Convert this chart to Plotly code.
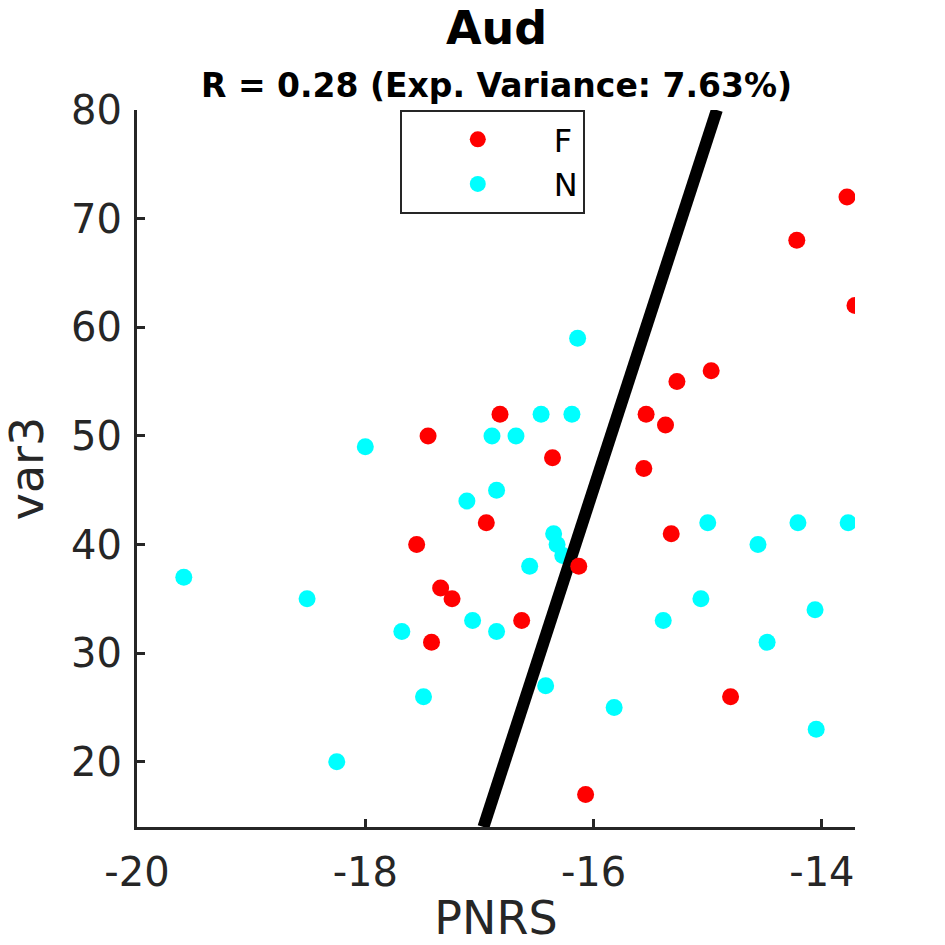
import plotly.graph_objects as go

# Data
f_x = [-17.45, -17.55, -17.34, -17.24, -17.42, -16.94, -16.82, -16.63, -16.36, -16.13,
       -16.07, -15.56, -15.54, -15.37, -15.32, -15.27, -14.97, -14.80, -14.22, -13.78, -13.71]
f_y = [50, 40, 36, 35, 31, 42, 52, 33, 48, 38,
       17, 47, 52, 51, 41, 55, 56, 26, 68, 72, 62]

n_x = [-19.59, -18.51, -18.25, -18.00, -17.68, -17.49, -17.11, -17.06, -16.89, -16.85,
       -16.85, -16.68, -16.56, -16.46, -16.42, -16.35, -16.32, -16.27, -16.19, -16.14,
       -15.82, -15.39, -15.06, -15.00, -14.56, -14.48, -14.21, -14.06, -14.05, -13.77]
n_y = [37, 35, 20, 49, 32, 26, 44, 33, 50, 45,
       32, 50, 38, 52, 27, 41, 40, 39, 52, 59,
       25, 33, 35, 42, 40, 31, 42, 34, 23, 42]

fit_x = [-16.965, -14.92]
fit_y = [14, 80]

x_ticks = [-20, -18, -16, -14]
x_ticktext = ["-20", "-18", "-16", "-14"]
y_ticks = [20, 30, 40, 50, 60, 70, 80]

title_main = "Aud"
title_sub = "R = 0.28 (Exp. Variance: 7.63%)"

dark = "#262626"
font_family = "DejaVu Sans"

fig = go.Figure()
fig.add_trace(go.Scatter(x=n_x, y=n_y, mode="markers", name="N", legendrank=2,
                         marker=dict(color="#00ffff", size=17, line=dict(width=0))))
fig.add_trace(go.Scatter(x=fit_x, y=fit_y, mode="lines", showlegend=False,
                         line=dict(color="black", width=12)))
fig.add_trace(go.Scatter(x=f_x, y=f_y, mode="markers", name="F", legendrank=1,
                         marker=dict(color="#ff0000", size=17, line=dict(width=0))))

plot_h = 945 - 110 - 118
def py2paper(py):
    return (945 - 118 - py) / plot_h

fig.update_layout(
    width=945, height=945,
    margin=dict(l=137, r=90, t=110, b=118),
    paper_bgcolor="white", plot_bgcolor="white",
    font=dict(family=font_family, color=dark, size=40),
    showlegend=True,
    legend=dict(x=0.366, y=1.0, xanchor="left", yanchor="top",
                bordercolor=dark, borderwidth=2, bgcolor="white",
                font=dict(size=32, color="black"), itemwidth=142,
                tracegroupgap=0),
)

fig.add_annotation(text="<b>" + title_main + "</b>", x=0.5, xref="paper", y=py2paper(28), yref="paper",
                   showarrow=False, font=dict(size=46, color="black"), yanchor="middle", xanchor="center")
fig.add_annotation(text="<b>" + title_sub + "</b>", x=0.5, xref="paper", y=py2paper(86), yref="paper",
                   showarrow=False, font=dict(size=33, color="black"), yanchor="middle", xanchor="center")

fig.update_xaxes(range=[-20, -13.71], tickvals=x_ticks, ticktext=x_ticktext, automargin=False,
                 showgrid=False, zeroline=False, showline=True, linecolor=dark, linewidth=3,
                 ticks="inside", ticklen=8, tickwidth=3, tickcolor=dark,
                 tickfont=dict(size=40, color=dark), ticklabelstandoff=8,
                 title=dict(text="PNRS", font=dict(size=46, color=dark), standoff=24))
fig.update_yaxes(range=[14, 80], tickvals=y_ticks, automargin=False,
                 showgrid=False, zeroline=False, showline=True, linecolor=dark, linewidth=3,
                 ticks="inside", ticklen=8, tickwidth=3, tickcolor=dark,
                 tickfont=dict(size=40, color=dark), ticklabelstandoff=4,
                 title=dict(text="var3", font=dict(size=46, color=dark), standoff=19))

fig.write_html("out.html")
